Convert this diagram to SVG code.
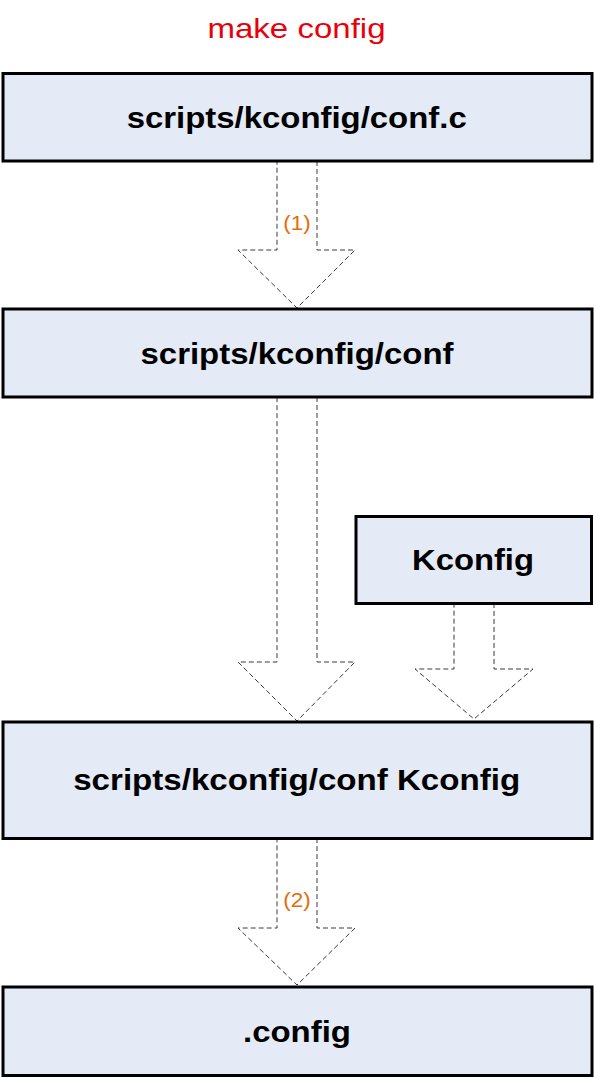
<svg xmlns="http://www.w3.org/2000/svg" width="594" height="1078" viewBox="0 0 594 1078">
<style>
.box{fill:#E4EBF6;stroke:#000;stroke-width:3}
.lbl{font-family:"Liberation Sans",Arial,sans-serif;font-weight:bold;font-size:30px;fill:#000;text-anchor:middle}
.arr{fill:#fff;stroke:#3a3a3a;stroke-width:1;stroke-dasharray:5 3}
.num{font-family:"Liberation Sans",Arial,sans-serif;font-size:21px;fill:#E46C0A;text-anchor:middle}
.title{font-family:"Liberation Sans",Arial,sans-serif;font-size:28px;fill:#E8000B;text-anchor:middle}
</style>
<rect width="594" height="1078" fill="#fff"/>
<text class="title" x="296.5" y="38" textLength="178" lengthAdjust="spacingAndGlyphs">make config</text>
<g id="connectors">
<polygon class="arr" points="277,161 317,161 317,250 355,250 297,308 238,250 277,250"/>
<polygon class="arr" points="277,397 317,397 317,662 355,662 297,721 238,662 277,662"/>
<polygon class="arr" points="454,603 494,603 494,669 533,669 474,719 415,669 454,669"/>
<polygon class="arr" points="277,838 317,838 317,928 355,928 297,985 238,928 277,928"/>
<text class="num" x="297" y="229.5" textLength="27.5" lengthAdjust="spacingAndGlyphs">(1)</text>
<text class="num" x="297" y="906.5" textLength="27.5" lengthAdjust="spacingAndGlyphs">(2)</text>
</g>
<g id="n1"><rect class="box" x="3" y="73.5" width="589" height="87.5"/><text class="lbl" x="296.7" y="127.7" textLength="340" lengthAdjust="spacingAndGlyphs">scripts/kconfig/conf.c</text></g>
<g id="n2"><rect class="box" x="3" y="309" width="589" height="88"/><text class="lbl" x="297" y="364" textLength="313" lengthAdjust="spacingAndGlyphs">scripts/kconfig/conf</text></g>
<g id="n3"><rect class="box" x="356" y="516.5" width="235.5" height="87"/><text class="lbl" x="473" y="570" textLength="122" lengthAdjust="spacingAndGlyphs">Kconfig</text></g>
<g id="n4"><rect class="box" x="3" y="722" width="589" height="116.5"/><text class="lbl" x="296.7" y="790" textLength="447" lengthAdjust="spacingAndGlyphs">scripts/kconfig/conf Kconfig</text></g>
<g id="n5"><rect class="box" x="3" y="987" width="589" height="88.5"/><text class="lbl" x="297" y="1041.5" textLength="108" lengthAdjust="spacingAndGlyphs">.config</text></g>
</svg>
